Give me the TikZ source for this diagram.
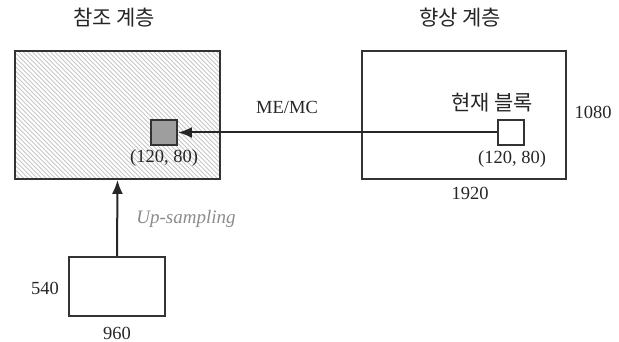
\documentclass[tikz,border=0pt]{standalone}
\usepackage{fontspec}
\setmainfont{Liberation Serif}
\newfontfamily\kr{Noto Sans CJK KR}
\usetikzlibrary{arrows.meta}
\begin{document}
\begin{tikzpicture}[x=1pt,y=-1pt,
  frame/.style={draw=black!80,line width=1.9pt},
  conn/.style={draw=black!85,line width=2pt,-{Latex[length=14pt,width=11pt]}},
  lbl/.style={font=\fontsize{18.5}{20}\selectfont,text=black!85,inner sep=0pt},
  klbl/.style={font=\kr\fontsize{21}{23}\selectfont,text=black!85,inner sep=0pt}]
\useasboundingbox (0,0) rectangle (619,342);
% hatched reference layer
\begin{scope}
\clip (15,51) rectangle (220,179);
\foreach \i in {-135,-130.5,...,225}
  \draw[black!22,line width=1pt] (\i,51) -- ++(130,130);
\end{scope}
\node[frame,minimum width=205pt,minimum height=128pt,inner sep=0pt] (ref) at (117.5,115) {};
\node[frame,fill=black!38,minimum width=26pt,minimum height=25pt,inner sep=0pt] (refblk) at (164,132.5) {};
\node[lbl] (refcoord) at (164,158) {(120, 80)};
\node[klbl] (reftitle) at (114,18) {참조 계층};
% enhancement layer
\node[frame,minimum width=204pt,minimum height=128pt,inner sep=0pt] (enh) at (464,115) {};
\node[frame,fill=white,minimum width=26pt,minimum height=25pt,inner sep=0pt] (cur) at (511,132.5) {};
\node[lbl] (curcoord) at (512,159) {(120, 80)};
\node[klbl] (curlbl) at (492,103) {현재 블록};
\node[klbl] (enhtitle) at (460,18) {향상 계층};
\node[lbl] (h1080) at (593,112) {1080};
\node[lbl] (w1920) at (470,193) {1920};
% base layer
\node[frame,minimum width=96pt,minimum height=59pt,inner sep=0pt] (base) at (117,286.5) {};
\node[lbl] (h540) at (45,288) {540};
\node[lbl] (w960) at (117,333) {960};
% connectors
\draw[conn] (cur.west) -- (refblk.east);
\node[lbl] (memc) at (287,107) {ME/MC};
\draw[conn] (base.north) -- (ref.south);
\node[lbl,text=black!45,font=\itshape\fontsize{19}{21}\selectfont] (up) at (186,219) {Up-sampling};
\end{tikzpicture}
\end{document}
